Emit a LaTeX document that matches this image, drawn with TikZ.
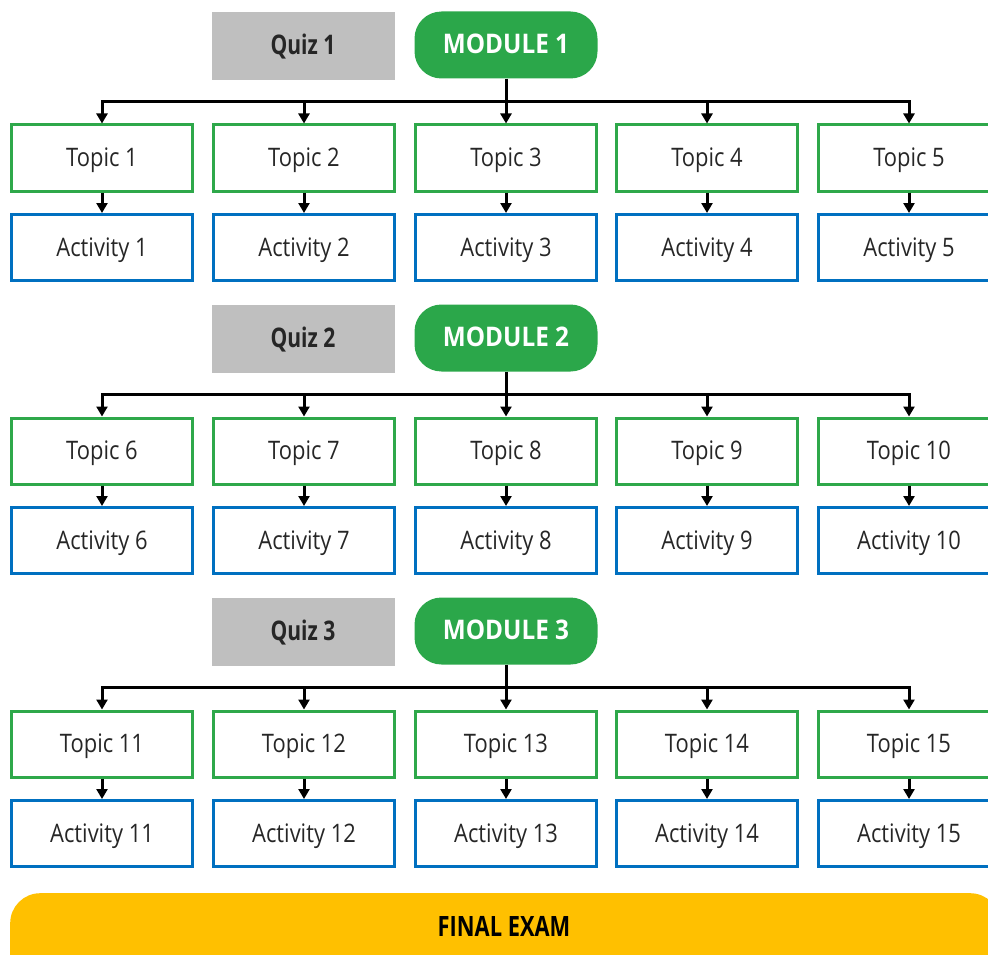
\documentclass[tikz,border=0pt]{standalone}
\usepackage{fontspec}
\setmainfont{Open Sans}[FakeStretch=0.86]
\newfontfamily\condbold[FakeStretch=0.78]{Open Sans Bold}
\newfontfamily\modbold[FakeStretch=0.9]{Open Sans Bold}
\usetikzlibrary{arrows.meta,calc}
\definecolor{tgreen}{HTML}{2EA84A}
\definecolor{mgreen}{HTML}{2BA74A}
\definecolor{ablue}{HTML}{0070C0}
\definecolor{qgray}{HTML}{BFBFBF}
\definecolor{fyellow}{HTML}{FFC000}
\tikzset{
  boxtext/.style={inner sep=0pt, text height=19pt, text depth=2pt},
  topicbox/.style={draw=tgreen, line width=3pt, minimum width=181pt, minimum height=66pt, boxtext, font=\fontsize{25.5}{28}\selectfont, text=black!85},
  actbox/.style={draw=ablue, line width=3pt, minimum width=181pt, minimum height=66pt, boxtext, font=\fontsize{25.5}{28}\selectfont, text=black!85},
  quizbox/.style={fill=qgray, minimum width=183pt, minimum height=68pt, boxtext, font=\condbold\fontsize{27}{30}\selectfont, text=black!85},
  modbox/.style={fill=mgreen, rounded corners=27pt, minimum width=183pt, minimum height=67pt, boxtext, font=\modbold\fontsize{27}{30}\selectfont, text=white},
  examshape/.style={fill=fyellow, rounded corners=30pt, minimum width=990pt, minimum height=92pt, inner sep=0pt},
  conn/.style={line width=3pt, black},
  arr/.style={conn, -{Triangle[length=10pt,width=11pt]}},
}
\begin{document}
\begin{tikzpicture}[x=1pt,y=-1pt]
\useasboundingbox (0,0) rectangle (988,955);
\clip (0,0) rectangle (988,955);
\foreach \r/\yo in {0/0,1/293,2/586}{
  \pgfmathtruncatemacro{\rr}{\r+1}
  \node[quizbox] (q\rr) at (303,46+\yo) {Quiz \rr};
  \node[modbox] (m\rr) at (506,45+\yo) {MODULE \rr};
  \coordinate (b\rr) at ($(m\rr.south)+(0,23)$);
  \foreach \c/\cx in {1/102,2/304,3/506,4/707,5/909}{
    \pgfmathtruncatemacro{\n}{\r*5+\c}
    \node[topicbox] (t\n) at (\cx,158+\yo) {Topic \n};
    \node[actbox] (a\n) at (\cx,247.5+\yo) {Activity \n};
    \draw[arr] (t\n.south) -- (a\n.north);
    \draw[arr] (t\n.north |- b\rr) -- (t\n.north);
  }
  \pgfmathtruncatemacro{\f}{\r*5+1}
  \pgfmathtruncatemacro{\l}{\r*5+5}
  \draw[conn] (m\rr.south) -- (b\rr);
  \draw[conn, line cap=rect] (t\f.north |- b\rr) -- (t\l.north |- b\rr);
}
\node[examshape, anchor=north west] (fe) at (10,893) {};
\node[font=\condbold\fontsize{28}{30}\selectfont] (fet) at (504,926) {FINAL EXAM};
\end{tikzpicture}
\end{document}
